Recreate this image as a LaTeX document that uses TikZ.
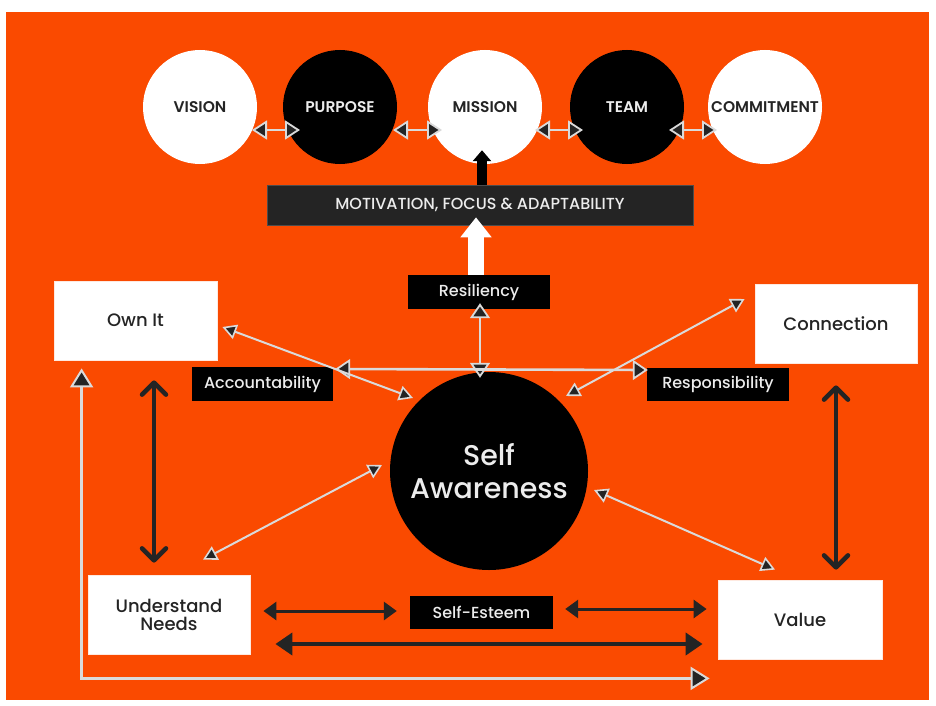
\documentclass[tikz,border=0pt]{standalone}
\usepackage{fontspec}
\setmainfont{Poppins}
\newfontfamily\medfont{Poppins Medium}
\newfontfamily\semifont{Poppins SemiBold}
\usetikzlibrary{arrows.meta,calc}
\definecolor{bgorange}{RGB}{250,74,0}
\definecolor{ink}{RGB}{36,36,36}
\definecolor{pale}{RGB}{218,218,218}
\definecolor{softtext}{RGB}{236,236,236}

\begin{document}
\begin{tikzpicture}[x=1pt,y=-1pt,
  wcirc/.style={circle,fill=white,minimum size=114pt,inner sep=0pt,text=ink,
    font=\semifont\fontsize{15.5}{18}\selectfont},
  bcirc/.style={circle,fill=black,minimum size=114pt,inner sep=0pt,text=softtext,
    font=\semifont\fontsize{15.5}{18}\selectfont},
  wbox/.style={rectangle,fill=white,draw=white!88!bgorange,line width=0.8pt,inner sep=0pt,
    text=ink,align=center,font=\medfont\fontsize{18}{20}\selectfont},
  bbox/.style={rectangle,fill=black,inner sep=0pt,text=softtext,
    font=\medfont\fontsize{16}{18}\selectfont},
  paleline/.style={draw=pale,line width=2pt,
    {Triangle[length=14pt,width=15pt,fill=ink,line width=1.6pt]}-{Triangle[length=14pt,width=15pt,fill=ink,line width=1.6pt]}},
  palemid/.style={draw=pale,line width=2.6pt,
    {Triangle[length=15pt,width=20pt,fill=ink,line width=1.8pt]}-{Triangle[length=15pt,width=20pt,fill=ink,line width=1.8pt]}},
  palebig/.style={draw=pale,line width=3pt,
    {Triangle[length=19pt,width=23pt,fill=ink,line width=2pt]}-{Triangle[length=19pt,width=23pt,fill=ink,line width=2pt]}},
  toplink/.style={draw=pale,line width=2.6pt,
    {Triangle[length=15pt,width=19pt,fill=ink,line width=1.8pt]}-{Triangle[length=15pt,width=19pt,fill=ink,line width=1.8pt]}},
  darkpair/.style={draw=ink,line width=3pt,{Triangle[length=13pt,width=18pt]}-{Triangle[length=13pt,width=18pt]}},
  darklong/.style={draw=ink,line width=4pt,{Triangle[length=17pt,width=22pt]}-{Triangle[length=17pt,width=22pt]}},
  darkbarb/.style={draw=ink,line width=4.5pt,line cap=round,
    {Straight Barb[length=12pt,width=24pt,line cap=round,line join=round]}-{Straight Barb[length=12pt,width=24pt,line cap=round,line join=round]}}
]
% canvas
\useasboundingbox (0,0) rectangle (936,706);
\fill[white] (0,0) rectangle (936,706);
\fill[bgorange] (6,12) rectangle (929,700);

% top row of circles
\node[wcirc] (vision) at (200,107) {VISION};
\node[bcirc] (purpose) at (340,107) {PURPOSE};
\node[wcirc] (mission) at (485,107) {MISSION};
\node[bcirc] (team) at (627,107) {TEAM};
\node[wcirc] (commit) at (765,107) {COMMITMENT};

\draw[toplink] ($(vision.center)+(52,23)$) -- ($(purpose.center)+(-40,23)$);
\draw[toplink] ($(purpose.center)+(53,23)$) -- ($(mission.center)+(-43,23)$);
\draw[toplink] ($(mission.center)+(50,23)$) -- ($(team.center)+(-44,23)$);
\draw[toplink] ($(team.center)+(42,23)$) -- ($(commit.center)+(-48,23)$);

% motivation bar
\node[rectangle,fill=ink,draw=black!70,line width=0.6pt,minimum width=426pt,minimum height=40pt,inner sep=0pt,
  text=softtext,font=\medfont\fontsize{16}{18}\selectfont] (motiv) at (480,205)
  {MOTIVATION, FOCUS \& ADAPTABILITY};
\draw[black,line width=10pt,-{Triangle[length=11pt,width=18pt]}]
  ($(motiv.north)+(2,0)$) -- ($(mission.south)+(-3,-14)$);

% resiliency
\node[bbox,minimum width=142pt,minimum height=34pt] (res) at (479,292) {Resiliency};
\draw[white,line width=16pt,-{Triangle[length=20pt,width=30pt]}]
  ($(res.north)+(-3,0)$) -- ($(motiv.south)+(-4,-8)$);

% central circle
\node[circle,fill=black,minimum size=198pt,inner sep=0pt,text=softtext,align=center,
  font=\medfont\fontsize{28.5}{33}\selectfont] (self) at (489,471) {Self\\Awareness};

% side labels
\node[bbox,minimum width=141pt,minimum height=34pt] (acc) at (262.5,384) {Accountability};
\node[bbox,minimum width=142pt,minimum height=33pt] (resp) at (718,384.5) {Responsibility};
\node[bbox,minimum width=143pt,minimum height=33pt] (esteem) at (481.5,612.5) {Self-Esteem};

% corner boxes
\node[wbox,minimum width=163pt,minimum height=79pt] (own) at (135.5,320.5) {Own It};
\node[wbox,minimum width=162pt,minimum height=79pt] (conn) at (836,323.5) {Connection};
\node[wbox,minimum width=162pt,minimum height=79pt] (und) at (169,614.5) {Understand\\[-2pt]Needs};
\node[wbox,minimum width=164pt,minimum height=79pt] (val) at (800,619.5) {Value};

% links around self awareness
\draw[palemid] ($(res.south)+(1,-6)$) -- ($(self.north)+(-9,6)$);
\draw[palemid] ($(acc.east)+(2,-15)$) -- ($(resp.west)+(1,-14.5)$);
\draw[paleline] ($(own.east)+(5,6.5)$) -- ($(self.center)+(-76,-73)$);
\draw[paleline] ($(conn.west)+(-10,-24.5)$) -- ($(self.center)+(77,-75)$);
\draw[paleline] ($(und.north)+(34,-15)$) -- ($(self.center)+(-107,-6)$);
\draw[paleline] ($(val.north)+(-25,-10)$) -- ($(self.center)+(105,19)$);

% bottom connectors
\draw[darkpair] ($(und.east)+(13,-3.5)$) -- ($(esteem.west)+(-13,-1.5)$);
\draw[darkpair] ($(esteem.east)+(12,-3.5)$) -- ($(val.west)+(-11,-10.5)$);
\draw[darklong] ($(und.east)+(25,29.5)$) -- ($(val.west)+(-15,24.5)$);

% vertical links between corner boxes
\draw[darkbarb] ($(own.south)+(18.5,20)$) -- ($(und.north)+(-15,-12)$);
\draw[darkbarb] ($(conn.south)+(0,22)$) -- ($(val.north)+(36,-10)$);

% outer return path
\draw[palebig] ($(own.south west)+(28,8)$) |- ($(val.south west)+(-8,19)$);
\end{tikzpicture}
\end{document}
